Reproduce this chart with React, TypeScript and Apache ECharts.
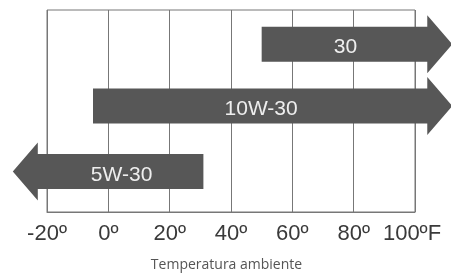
import React, { useEffect, useRef } from "react";
import * as echarts from "echarts";

// Oil grades and their temperature ranges (°F); toTemp is the end of the arrow body,
// the arrowhead points past the chart edge (open-ended range).
const grades = ["30", "10W-30", "5W-30"];
const fromTemp = [50, -5, 31];
const toTemp = [104, 104, -23];
const rowLevel = [83, 52.5, 20];
const tickValues = [-20, 0, 20, 40, 60, 80, 100];
const axisTitle = "Temperatura ambiente";

export default function App() {
  const ref = useRef<HTMLDivElement>(null);
  useEffect(() => {
    if (!ref.current) return;
    const chart = echarts.init(ref.current, undefined, { renderer: "svg" });
    const data = grades.map((g, i) => [fromTemp[i], toTemp[i], rowLevel[i], g]);
    chart.setOption({
      animation: false,
      grid: {
        left: 47,
        right: 36,
        top: 10,
        bottom: 60,
        show: true,
        borderColor: "#777",
        borderWidth: 1,
      },
      xAxis: {
        type: "value",
        min: tickValues[0],
        max: tickValues[tickValues.length - 1],
        interval: 20,
        axisLine: { show: true, lineStyle: { color: "#777", width: 1 } },
        axisTick: { show: false },
        splitLine: { show: true, lineStyle: { color: "#777", width: 1 } },
        axisLabel: {
          margin: 9,
          fontSize: 22,
          fontFamily: "Liberation Sans",
          color: "#3a3a3a",
          formatter: (v: number) => (v === 100 ? "{f|" + v + "ºF}" : v + "º"),
          rich: {
            f: {
              fontSize: 22,
              fontFamily: "Liberation Sans",
              color: "#3a3a3a",
              padding: [0, 6, 0, 0],
            },
          },
        },
        name: axisTitle,
        nameLocation: "middle",
        nameGap: 44,
        nameTextStyle: {
          fontFamily: "Open Sans",
          fontSize: 14,
          color: "#555",
          padding: [0, 9, 0, 0],
        },
      },
      yAxis: { type: "value", min: 0, max: 100, show: false },
      series: [
        {
          type: "custom",
          clip: false,
          data,
          renderItem: (params: any, api: any) => {
            const y = api.value(2);
            const s = api.coord([api.value(0), y]);
            const e = api.coord([api.value(1), y]);
            const dir = e[0] >= s[0] ? 1 : -1;
            const cy = s[1];
            const bh = 17.5;
            const hh = 29;
            const hl = 25;
            const idx = params.dataIndex;
            return {
              type: "group",
              children: [
                {
                  type: "polygon",
                  shape: {
                    points: [
                      [s[0], cy - bh],
                      [e[0], cy - bh],
                      [e[0], cy - hh],
                      [e[0] + dir * hl, cy],
                      [e[0], cy + hh],
                      [e[0], cy + bh],
                      [s[0], cy + bh],
                    ],
                  },
                  style: { fill: "#575757", stroke: null },
                },
                {
                  type: "text",
                  style: {
                    text: grades[idx],
                    x: (s[0] + e[0]) / 2 + 1,
                    y: cy + 1.5,
                    align: "center",
                    verticalAlign: "middle",
                    fill: "#eeeeee",
                    fontSize: 21,
                    fontFamily: "Liberation Sans",
                  },
                },
              ],
            };
          },
        },
      ],
    });
    return () => chart.dispose();
  }, []);
  return (
    <div
      ref={ref}
      style={{ position: "fixed", left: 0, top: 0, width: 451, height: 275 }}
    />
  );
}
